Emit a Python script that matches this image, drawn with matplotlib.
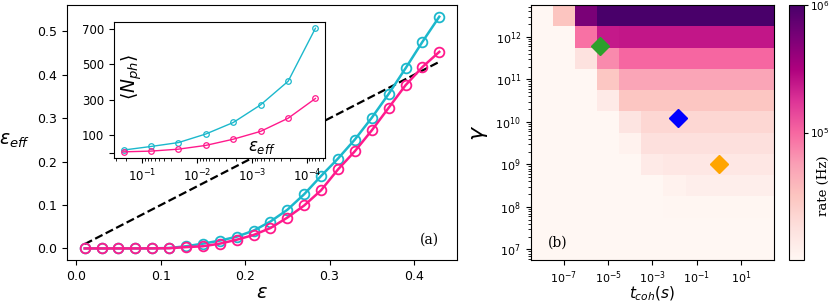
import numpy as np
import matplotlib
matplotlib.use('Agg')
import matplotlib.pyplot as plt
from matplotlib.colors import LogNorm
from matplotlib.ticker import NullLocator

# ---- panel (a) data ----
eps = [0.01, 0.03, 0.05, 0.07, 0.09, 0.11, 0.13, 0.15, 0.17, 0.19, 0.21,
       0.23, 0.25, 0.27, 0.29, 0.31, 0.33, 0.35, 0.37, 0.39, 0.41, 0.43]
eps_eff_cyan = [0.0, 0.0, 0.0, 0.0, 0.0002, 0.001, 0.005, 0.011, 0.018, 0.027, 0.041,
                0.062, 0.089, 0.125, 0.167, 0.207, 0.251, 0.301, 0.356, 0.415, 0.476, 0.534]
eps_eff_pink = [0.0, 0.0, 0.0, 0.0, 0.0001, 0.0005, 0.003, 0.005, 0.011, 0.020, 0.031,
                0.047, 0.071, 0.099, 0.134, 0.182, 0.224, 0.272, 0.324, 0.376, 0.418, 0.453]

# inset: mean photon number vs eps_eff
inset_eps_eff = [2.2e-1, 7e-2, 2.2e-2, 7e-3, 2.2e-3, 7e-4, 2.2e-4, 7e-5]
nph_cyan = [17, 37, 59, 107, 172, 271, 404, 702]
nph_pink = [7, 11, 22, 43, 78, 122, 196, 307]
inset_yticks = [0, 100, 300, 500, 700]
inset_yticklabels = ['', '100', '300', '500', '700']

# ---- panel (b) data ----
t_coh = [1e-8, 1e-7, 1e-6, 1e-5, 1e-4, 1e-3, 1e-2, 1e-1, 1e0, 1e1, 1e2]
gamma_exp = [7.0, 7.5, 8.0, 8.5, 9.0, 9.5, 10.0, 10.5, 11.0, 11.5, 12.0, 12.5]
# rate (Hz), rows = gamma (low -> high), cols = t_coh
rate = [
    [1e3, 1e3, 1e3, 1e3, 1e3, 1e3, 1e3, 1e3, 1e3, 1e3, 1e3],
    [1e3, 1e3, 1e3, 1e3, 1e3, 1e3, 1e3, 1e3, 1e3, 1e3, 1e3],
    [1e3, 1e3, 1e3, 1e3, 1e3, 1e3, 1.05e4, 1.05e4, 1.05e4, 1.05e4, 1.05e4],
    [1e3, 1e3, 1e3, 1e3, 1e3, 1e3, 1.15e4, 1.25e4, 1.25e4, 1.25e4, 1.25e4],
    [1e3, 1e3, 1e3, 1e3, 1e3, 1.4e4, 1.5e4, 1.5e4, 1.5e4, 1.5e4, 1.5e4],
    [1e3, 1e3, 1e3, 1e3, 1.15e4, 1.8e4, 1.8e4, 1.8e4, 1.8e4, 1.8e4, 1.8e4],
    [1e3, 1e3, 1e3, 1e3, 1.6e4, 2.2e4, 2.2e4, 2.2e4, 2.2e4, 2.2e4, 2.2e4],
    [1e3, 1e3, 1e3, 1.4e4, 3.1e4, 3.1e4, 3.1e4, 3.1e4, 3.1e4, 3.1e4, 3.1e4],
    [1e3, 1e3, 1e3, 3e4, 5.2e4, 5.2e4, 5.2e4, 5.2e4, 5.2e4, 5.2e4, 5.2e4],
    [1e3, 1e3, 1.7e4, 7e4, 1.02e5, 1.02e5, 1.02e5, 1.02e5, 1.02e5, 1.02e5, 1.02e5],
    [1e3, 1e3, 9e4, 2.4e5, 2.5e5, 2.5e5, 2.5e5, 2.5e5, 2.5e5, 2.5e5, 2.5e5],
    [1e3, 3.2e4, 5.6e5, 1e6, 1e6, 1e6, 1e6, 1e6, 1e6, 1e6, 1e6],
]
# highlighted points (t_coh, gamma, colour)
pts_t = [4.3e-6, 1.45e-2, 1.03]
pts_g = [6.1e11, 1.24e10, 1.05e9]
pts_c = ['tab:green', 'blue', 'orange']

cyan = '#1cb8cc'
pink = '#ff1a8c'

fig = plt.figure(figsize=(8.3, 3.02), dpi=100)

# main panel (a)
ax = fig.add_axes([0.0807, 0.139, 0.4699, 0.844])
ax.plot(eps, eps, 'k--', lw=1.6)
ax.plot(eps, eps_eff_cyan, '-o', color=cyan, lw=1.8, ms=7, mfc='none', mew=1.3)
ax.plot(eps, eps_eff_pink, '-o', color=pink, lw=1.8, ms=7, mfc='none', mew=1.3)
ax.set_xticks([0.0, 0.1, 0.2, 0.3, 0.4])
ax.tick_params(labelsize=9)
ax.set_xlabel(r'$\varepsilon$', fontsize=14, labelpad=0)
ax.set_ylabel(r'$\varepsilon_{eff}$', fontsize=13.5, rotation=0)
ax.yaxis.label.set(ha='center', va='center')
ax.yaxis.set_label_coords(-0.135, 0.47)
ax.text(0.93, 0.08, '(a)', transform=ax.transAxes, fontsize=10,
        family='DejaVu Serif', ha='center', va='center')

# inset
ins = fig.add_axes([0.1373, 0.4768, 0.2543, 0.4502])
ins.plot(inset_eps_eff, nph_cyan, '-o', color=cyan, lw=1.0, ms=4, mfc='none', mew=0.9)
ins.plot(inset_eps_eff, nph_pink, '-o', color=pink, lw=1.0, ms=4, mfc='none', mew=0.9)
ins.set_xscale('log')
ins.invert_xaxis()
ins.set_yticks(inset_yticks)
ins.set_yticklabels(inset_yticklabels)
ins.tick_params(labelsize=8.5)
ins.text(0.085, 0.6, r'$\langle N_{ph}\rangle$', transform=ins.transAxes,
         fontsize=13.5, rotation=90, ha='center', va='center')
ins.text(0.70, 0.08, r'$\varepsilon_{eff}$', transform=ins.transAxes,
         fontsize=12, ha='center', va='center')

# panel (b) heatmap
axb = fig.add_axes([0.6394, 0.139, 0.2931, 0.844])
lt = np.log10(t_coh)
lg = np.array(gamma_exp)
t_edges = 10.0 ** np.concatenate([[lt[0] - 0.5], (lt[:-1] + lt[1:]) / 2, [lt[-1] + 0.5]])
g_edges = 10.0 ** np.concatenate([[lg[0] - 0.25], (lg[:-1] + lg[1:]) / 2, [lg[-1] + 0.25]])
mesh = axb.pcolormesh(t_edges, g_edges, np.array(rate), cmap='RdPu',
                      norm=LogNorm(vmin=1e4, vmax=1e6), shading='flat')
axb.set_xscale('log')
axb.set_yscale('log')
for t, g, c in zip(pts_t, pts_g, pts_c):
    axb.plot(t, g, 'D', color=c, ms=9)
axb.set_xlim(t_edges[0], t_edges[-1])
axb.set_ylim(g_edges[0], g_edges[-1])
axb.set_xticks([1e-7, 1e-5, 1e-3, 1e-1, 1e1])
axb.xaxis.set_minor_locator(NullLocator())
axb.set_yticks([1e7, 1e8, 1e9, 1e10, 1e11, 1e12])
axb.tick_params(labelsize=8)
axb.set_xlabel(r'$t_{coh}(s)$', fontsize=11, labelpad=-1)
axb.set_ylabel(r'$\gamma$', fontsize=16)
axb.text(0.11, 0.07, '(b)', transform=axb.transAxes, fontsize=10,
         family='DejaVu Serif', ha='center', va='center')

# colorbar
cax = fig.add_axes([0.9506, 0.139, 0.0175, 0.844])
cbar = fig.colorbar(mesh, cax=cax)
cbar.set_ticks([1e5, 1e6])
cbar.ax.minorticks_off()
cbar.ax.tick_params(labelsize=7.5, length=3, pad=2)
cbar.set_label('rate (Hz)', family='DejaVu Serif', fontsize=9.5)
cbar.ax.yaxis.set_label_coords(1.95, 0.29)

fig.savefig('out.png', dpi=100)
